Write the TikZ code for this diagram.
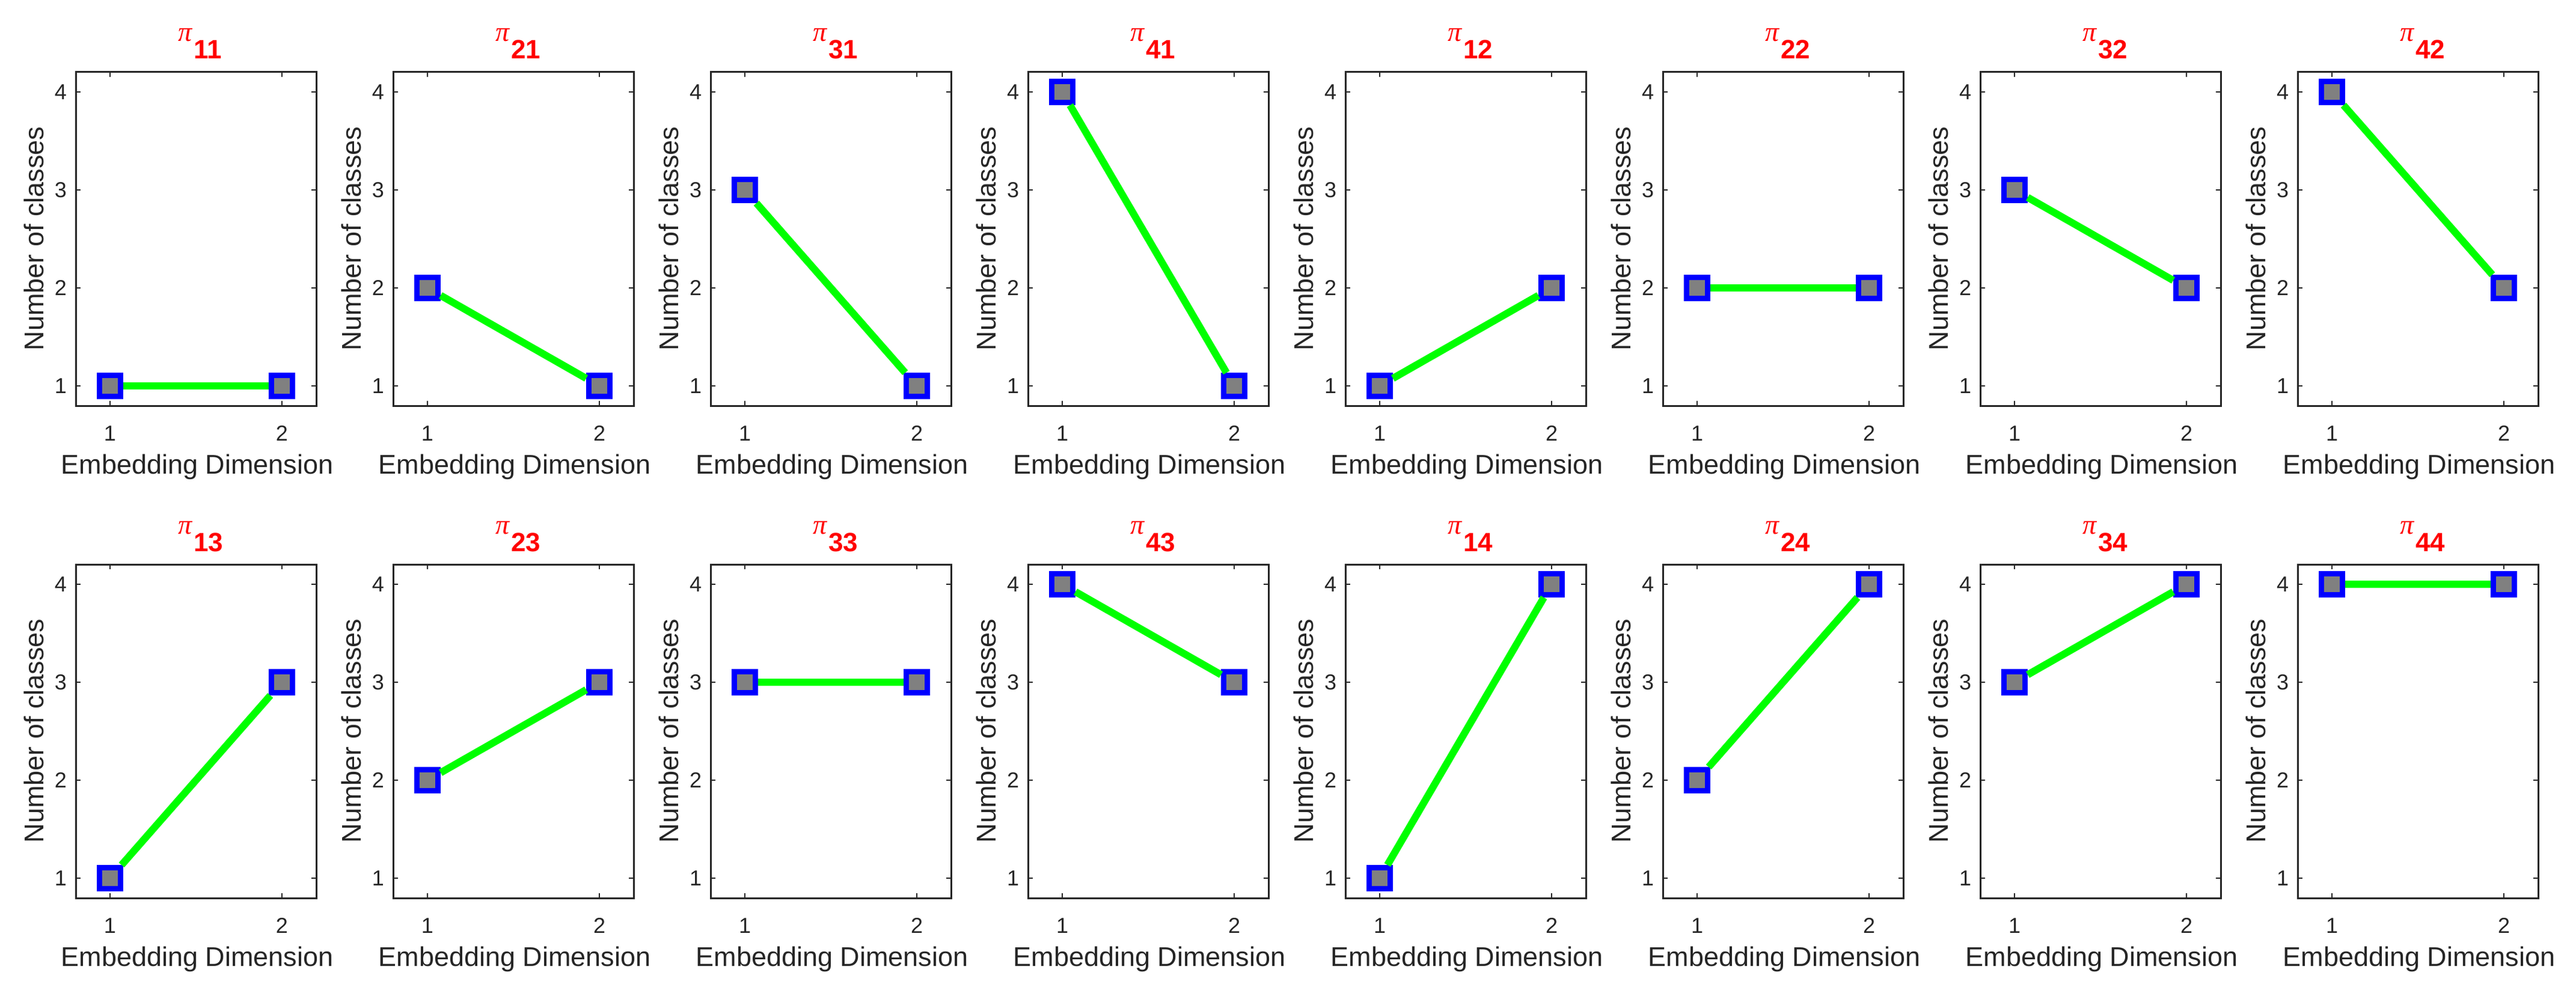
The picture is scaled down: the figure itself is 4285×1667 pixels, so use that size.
\documentclass[tikz,border=0pt]{standalone}
\usepackage{fontspec}
\setmainfont{Liberation Sans}
\newfontfamily\pifont{Liberation Serif}
\begin{document}
\begin{tikzpicture}[x=1pt,y=-1pt,
  txt/.style={text=black!85,inner sep=0pt},
  ticklab/.style={txt,font=\fontsize{36}{40}\selectfont},
  axlab/.style={txt,font=\fontsize{45}{50}\selectfont},
  mk/.style={rectangle,draw=blue,fill=gray,line width=9pt,minimum size=35pt,inner sep=0pt},
  dataline/.style={draw={rgb,255:red,0;green,255;blue,0},line width=12pt},
  frame/.style={draw=black!85,line width=3pt},
  tk/.style={draw=black!85,line width=2pt}]
\useasboundingbox (0,0) rectangle (4285,1667);
\fill[white] (0,0) rectangle (4285,1667);
\foreach \c/\r/\a/\b/\s in {0/0/1/1/11,1/0/2/1/21,2/0/3/1/31,3/0/4/1/41,4/0/1/2/12,5/0/2/2/22,6/0/3/2/32,7/0/4/2/42,
  0/1/1/3/13,1/1/2/3/23,2/1/3/3/33,3/1/4/3/43,4/1/1/4/14,5/1/2/4/24,6/1/3/4/34,7/1/4/4/44}{
  \pgfmathsetmacro\L{126+528*\c}
  \pgfmathsetmacro\T{120+819*\r}
  \pgfmathsetmacro\ya{\T+33+(4-\a)*163}
  \pgfmathsetmacro\yb{\T+33+(4-\b)*163}
  % frame
  \draw[frame] (\L,\T) rectangle (\L+400,\T+555);
  % ticks
  \foreach \xx in {57,343}{
    \draw[tk] (\L+\xx,\T+555) -- (\L+\xx,\T+547);
    \draw[tk] (\L+\xx,\T) -- (\L+\xx,\T+8);
    \node[ticklab] (xt-\c-\r-\xx) at (\L+\xx,\T+601) {\ifnum\xx=57 1\else 2\fi};
  }
  \foreach \v in {1,2,3,4}{
    \pgfmathsetmacro\yy{\T+33+(4-\v)*163}
    \draw[tk] (\L,\yy) -- (\L+8,\yy);
    \draw[tk] (\L+400,\yy) -- (\L+392,\yy);
    \node[ticklab] (yt-\c-\r-\v) at (\L-25,\yy) {\v};
  }
  \node[axlab] (xl-\c-\r) at (\L+202,\T+657) {Embedding Dimension};
  \node[axlab,rotate=90] (yl-\c-\r) at (\L-70,\T+277) {Number of classes};
  % title
  \node[anchor=base west,inner sep=0pt,text=red,font=\fontsize{44}{48}\selectfont\bfseries] (ts-\c-\r) at (\L+196,\T-22) {\s};
  \node[anchor=base east,inner sep=0pt,text=red,font=\fontsize{46}{50}\selectfont\pifont\itshape] (tp-\c-\r) at (\L+194,\T-51) {π};
  % data
  \node[mk] (m1-\c-\r) at (\L+57,\ya) {};
  \node[mk] (m2-\c-\r) at (\L+343,\yb) {};
  \draw[dataline] (m1-\c-\r) -- (m2-\c-\r);
}
\end{tikzpicture}
\end{document}
